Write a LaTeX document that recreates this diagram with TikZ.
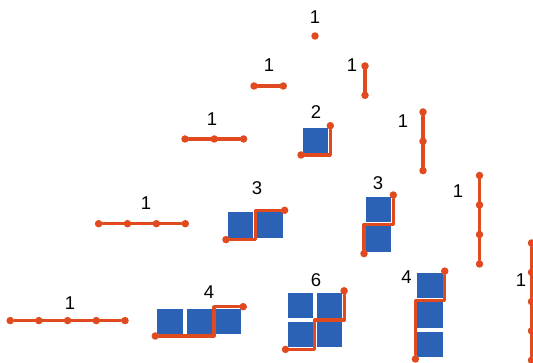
\documentclass[tikz,border=0pt]{standalone}
\usepackage{fontspec}
\setsansfont{Liberation Sans}

\definecolor{pathred}{RGB}{224,74,30}
\definecolor{cellblue}{RGB}{44,98,181}

\tikzset{
  stepline/.style={draw=pathred, line width=3.2pt, line cap=round, line join=round},
  gridpt/.style={circle, fill=pathred, inner sep=0pt, minimum size=7.5pt},
  cellbox/.style={fill=cellblue},
  count/.style={font=\sffamily\fontsize{18.5}{18.5}\selectfont, inner sep=0pt},
  grid unit/.style={x=29.3pt, y=29.3pt}
}

\begin{document}
\begin{tikzpicture}[x=1pt, y=-1pt]
  \useasboundingbox (0,0) rectangle (533,363);
  \clip (0,0) rectangle (533,363);

  % row 0
  \node[gridpt] (p0) at (315,36) {};
  \node[count] (c0) at (315,17) {1};

  % row 1
  \node[gridpt] (h1s) at (254,86) {};
  \node[gridpt] (h1e) at (283.3,86) {};
  \draw[stepline] (h1s) -- (h1e);
  \node[count] (c1a) at (269,65) {1};
  \node[gridpt] (v1s) at (365,66) {};
  \node[gridpt] (v1e) at (365,95.3) {};
  \draw[stepline] (v1s) -- (v1e);
  \node[count] (c1b) at (352,65) {1};

  % row 2
  \foreach \i in {0,...,2}
    \node[gridpt] (h2-\i) at (185+29.3*\i,139) {};
  \draw[stepline] (h2-0) -- (h2-2);
  \node[count] (c2a) at (212,119) {1};
  \begin{scope}[shift={(301,155)}, grid unit]
    \fill[cellbox] (0.07,0.07) rectangle (0.93,0.93);
    \node[gridpt] (s2s) at (0,0) {};
    \node[gridpt] (s2e) at (1,1) {};
    \draw[stepline] (s2s) -- (1,0) -- (s2e);
  \end{scope}
  \node[count] (c2b) at (316,112) {2};
  \foreach \i in {0,...,2}
    \node[gridpt] (v2-\i) at (423,112+29.3*\i) {};
  \draw[stepline] (v2-0) -- (v2-2);
  \node[count] (c2c) at (403,121) {1};

  % row 3
  \foreach \i in {0,...,3}
    \node[gridpt] (h3-\i) at (98.6+28.9*\i,223.7) {};
  \draw[stepline] (h3-0) -- (h3-3);
  \node[count] (c3a) at (146,203) {1};
  \begin{scope}[shift={(226,239.6)}, grid unit]
    \foreach \cx/\cy in {0/0,1/0}
      \fill[cellbox] (\cx+0.07,\cy+0.07) rectangle (\cx+0.93,\cy+0.93);
    \node[gridpt] (s3hs) at (0,0) {};
    \node[gridpt] (s3he) at (2,1) {};
    \draw[stepline] (s3hs) -- (1,0) -- (1,1) -- (s3he);
  \end{scope}
  \node[count] (c3b) at (257,188) {3};
  \begin{scope}[shift={(364,253.6)}, grid unit]
    \foreach \cx/\cy in {0/0,0/1}
      \fill[cellbox] (\cx+0.07,\cy+0.07) rectangle (\cx+0.93,\cy+0.93);
    \node[gridpt] (s3vs) at (0,0) {};
    \node[gridpt] (s3ve) at (1,2) {};
    \draw[stepline] (s3vs) -- (0,1) -- (1,1) -- (s3ve);
  \end{scope}
  \node[count] (c3c) at (378,183) {3};
  \foreach \i in {0,...,3}
    \node[gridpt] (v3-\i) at (479.5,175.5+29.5*\i) {};
  \draw[stepline] (v3-0) -- (v3-3);
  \node[count] (c3d) at (458,191) {1};

  % row 4
  \foreach \i in {0,...,4}
    \node[gridpt] (h4-\i) at (10.2+28.7*\i,320.6) {};
  \draw[stepline] (h4-0) -- (h4-4);
  \node[count] (c4a) at (70,303) {1};
  \begin{scope}[shift={(155.3,336)}, grid unit]
    \foreach \cx/\cy in {0/0,1/0,2/0}
      \fill[cellbox] (\cx+0.07,\cy+0.07) rectangle (\cx+0.93,\cy+0.93);
    \node[gridpt] (s4hs) at (0,0) {};
    \node[gridpt] (s4he) at (3,1) {};
    \draw[stepline] (s4hs) -- (2,0) -- (2,1) -- (s4he);
  \end{scope}
  \node[count] (c4b) at (209,292) {4};
  \begin{scope}[shift={(285.5,349.4)}, grid unit]
    \foreach \cx/\cy in {0/0,1/0,0/1,1/1}
      \fill[cellbox] (\cx+0.07,\cy+0.07) rectangle (\cx+0.93,\cy+0.93);
    \node[gridpt] (s6s) at (0,0) {};
    \node[gridpt] (s6e) at (2,2) {};
    \draw[stepline] (s6s) -- (1,0) -- (1,1) -- (2,1) -- (s6e);
  \end{scope}
  \node[count] (c4c) at (316,280) {6};
  \begin{scope}[shift={(415.4,359)}, grid unit]
    \foreach \cx/\cy in {0/0,0/1,0/2}
      \fill[cellbox] (\cx+0.07,\cy+0.07) rectangle (\cx+0.93,\cy+0.93);
    \node[gridpt] (s4vs) at (0,0) {};
    \node[gridpt] (s4ve) at (1,3) {};
    \draw[stepline] (s4vs) -- (0,2) -- (1,2) -- (s4ve);
  \end{scope}
  \node[count] (c4d) at (406.5,277) {4};
  \foreach \i in {0,...,4}
    \node[gridpt] (v4-\i) at (531.5,243+29.3*\i) {};
  \draw[stepline] (v4-0) -- (v4-4);
  \node[count] (c4e) at (521,280) {1};
\end{tikzpicture}
\end{document}
